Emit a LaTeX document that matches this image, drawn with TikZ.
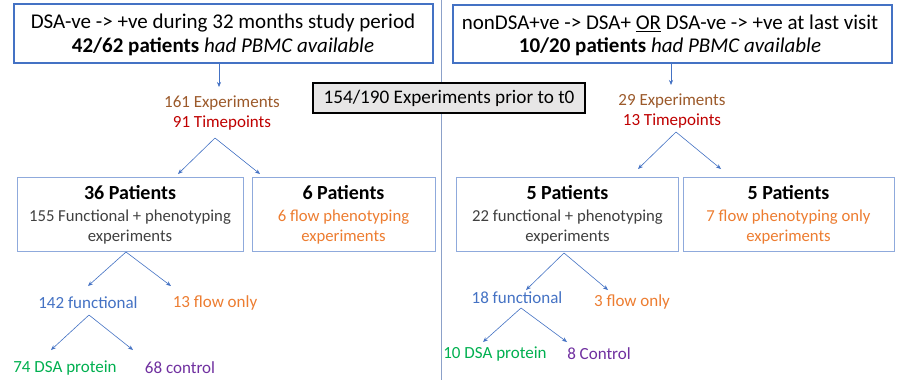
\documentclass[tikz,border=0pt]{standalone}
\usepackage{fontspec}
\setmainfont{Carlito}
\usetikzlibrary{arrows.meta}
\definecolor{cblue}{HTML}{4472C4}
\definecolor{lblue}{HTML}{8FAADC}
\definecolor{corange}{HTML}{ED7D31}
\definecolor{cgreen}{HTML}{00B050}
\definecolor{cpurple}{HTML}{7030A0}
\definecolor{cbrown}{HTML}{9C5A2B}
\definecolor{cred}{HTML}{C00000}
\definecolor{ctext}{HTML}{404040}
\definecolor{cgray}{HTML}{E7E6E6}
\begin{document}
\begin{tikzpicture}[x=1pt,y=-1pt,
  topbox/.style={draw=cblue,line width=1.6pt,inner sep=0pt},
  midbox/.style={draw=lblue,line width=0.9pt,inner sep=0pt},
  arr/.style={draw=cblue,line width=0.6pt,-{Stealth[length=5pt,width=4pt]}},
  big/.style={font=\fontsize{21}{25}\selectfont,inner sep=0pt},
  hd/.style={font=\fontsize{20}{24}\selectfont\bfseries,text=black,inner sep=0pt},
  sm/.style={font=\fontsize{16.7}{20}\selectfont,inner sep=0pt},
  lab/.style={font=\fontsize{17}{20}\selectfont,inner sep=0pt}]
\useasboundingbox (0,0) rectangle (902,386);
\fill[white] (0,0) rectangle (902,386);

% divider
\coordinate (dtop) at (441,0);
\coordinate (dbot) at (441,380);
\draw[lblue!80!gray,line width=0.8pt] (dtop) -- (dbot);

% top boxes
\node[topbox,minimum width=419pt,minimum height=59pt] (tl) at (223.5,33.5) {};
\node[big] (tl1) at (223,23) {DSA-ve -> +ve during 32 months study period};
\node[big] (tl2) at (223,47) {\textbf{42/62 patients} \textit{had PBMC available}};
\node[topbox,minimum width=439pt,minimum height=58pt] (tr) at (672.5,34) {};
\node[big] (tr1) at (670,23) {nonDSA+ve -> DSA+ \underline{OR} DSA-ve -> +ve at last visit};
\node[big] (tr2) at (670,47) {\textbf{10/20 patients} \textit{had PBMC available}};

% centre grey box
\node[draw=black,line width=1.6pt,fill=cgray,minimum width=272pt,minimum height=30pt,inner sep=0pt,font=\fontsize{19.2}{23}\selectfont] (mid) at (449,98) {154/190 Experiments prior to t0};

% experiments / timepoints
\node[lab,text=cbrown] (eL) at (222,103) {161 Experiments};
\node[lab,text=cred] (tL) at (222,123) {91 Timepoints};
\draw[arr] (tl.south -| eL.north) ++(-3,0) -- (219,87);
\node[lab,text=cbrown] (eR) at (672,101) {29 Experiments};
\node[lab,text=cred] (tR) at (672,121) {13 Timepoints};
\draw[arr] (tr.south -| eR.north) ++(-1,0) -- (671,85);

% apexes
\coordinate (aL) at (215,138);
\coordinate (aL1) at (178,174);
\coordinate (aL2) at (260,174);
\draw[arr] (aL) -- (aL1);
\draw[arr] (aL) -- (aL2);
\coordinate (aR) at (676,132);
\coordinate (aR1) at (638,169);
\coordinate (aR2) at (721,169);
\draw[arr] (aR) -- (aR1);
\draw[arr] (aR) -- (aR2);

% row 2 boxes
\node[midbox,minimum width=226pt,minimum height=74pt] (b1) at (130,214) {};
\node[hd] (b1h) at (130,193) {36 Patients};
\node[sm,text=ctext] (b1a) at (130,217) {155 Functional + phenotyping};
\node[sm,text=ctext] (b1b) at (130,237) {experiments};

\node[midbox,minimum width=183pt,minimum height=74pt] (b2) at (343.5,214) {};
\node[hd] (b2h) at (343.5,193) {6 Patients};
\node[sm,text=corange] (b2a) at (343.5,217) {6 flow phenotyping};
\node[sm,text=corange] (b2b) at (343.5,237) {experiments};

\node[midbox,minimum width=222pt,minimum height=74pt] (b3) at (567.5,214) {};
\node[hd] (b3h) at (567.5,193) {5 Patients};
\node[sm,text=ctext] (b3a) at (567.5,217) {22 functional + phenotyping};
\node[sm,text=ctext] (b3b) at (567.5,237) {experiments};

\node[midbox,minimum width=211pt,minimum height=74pt] (b4) at (788.5,214) {};
\node[hd] (b4h) at (788.5,193) {5 Patients};
\node[sm,text=corange] (b4a) at (788.5,217) {7 flow phenotyping only};
\node[sm,text=corange] (b4b) at (788.5,237) {experiments};

% left lower tree
\coordinate (cL) at (126,252);
\coordinate (cL1) at (88,286);
\coordinate (cL2) at (171,286);
\draw[arr] (cL) -- (cL1);
\draw[arr] (cL) -- (cL2);
\node[lab,text=cblue] (fL) at (88,303) {142 functional};
\node[lab,text=corange] (oL) at (215,303) {13 flow only};
\coordinate (dL) at (89,315);
\coordinate (dL1) at (51,350);
\coordinate (dL2) at (133,350);
\draw[arr] (dL) -- (dL1);
\draw[arr] (dL) -- (dL2);
\node[lab,text=cgreen] (pL) at (65,368) {74 DSA protein};
\node[lab,text=cpurple] (kL) at (180,368) {68 control};

% right lower tree
\coordinate (cR) at (564,253);
\coordinate (cR1) at (526,290);
\coordinate (cR2) at (608,290);
\draw[arr] (cR) -- (cR1);
\draw[arr] (cR) -- (cR2);
\node[lab,text=cblue] (fR) at (517,298) {18 functional};
\node[lab,text=corange] (oR) at (632,302) {3 flow only};
\coordinate (dR) at (521,308);
\coordinate (dR1) at (483,342);
\coordinate (dR2) at (567,342);
\draw[arr] (dR) -- (dR1);
\draw[arr] (dR) -- (dR2);
\node[lab,text=cgreen] (pR) at (495,354) {10 DSA protein};
\node[lab,text=cpurple] (kR) at (599,354) {8 Control};
\end{tikzpicture}
\end{document}
